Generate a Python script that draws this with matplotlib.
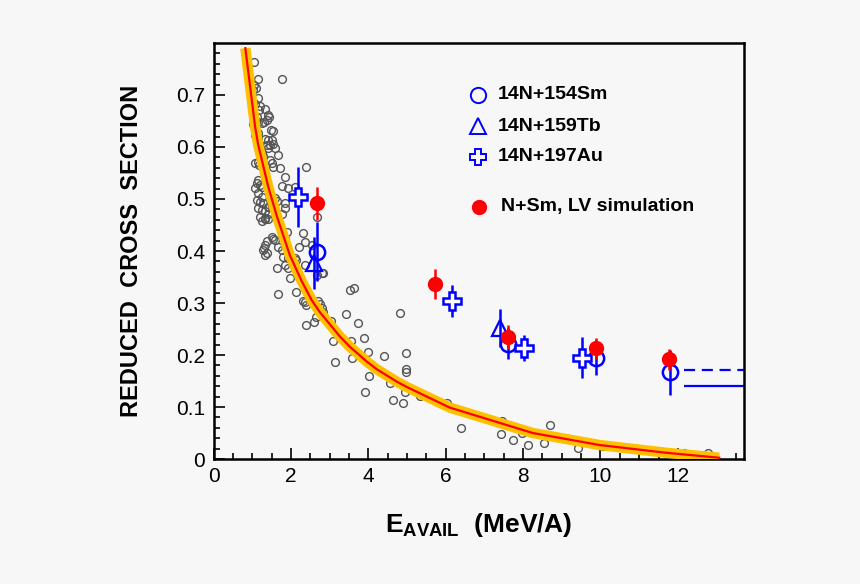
import numpy as np
import matplotlib.pyplot as plt

plt.rcParams['font.family'] = ['Liberation Sans', 'DejaVu Sans']
plt.rcParams['mathtext.fontset'] = 'custom'
plt.rcParams['mathtext.bf'] = 'Liberation Sans:bold'
plt.rcParams['mathtext.rm'] = 'Liberation Sans:bold'

# systematics (grey open circles)
sys_x = [1.04, 1.14, 1.76, 1.05, 1.09, 1.02, 1.14, 1.02, 1.07, 1.20, 1.17, 1.33,
         1.41, 1.44, 1.37, 1.11, 1.15, 1.02, 1.07, 1.24, 1.31, 1.48, 1.54, 1.07, 1.14,
         1.07, 1.14, 1.33, 1.41, 1.51, 1.37, 1.46, 1.54, 1.41, 1.58, 1.20, 1.24, 1.28,
         1.67, 1.46, 1.50, 1.07, 1.14, 1.17, 1.54, 1.71, 1.84, 2.38, 1.15, 1.11, 1.20,
         1.24, 1.07, 1.76, 1.93, 2.10, 1.15, 1.24, 1.11, 1.20, 1.28, 1.58, 1.65, 1.50,
         1.41, 1.84, 1.15, 1.24, 1.33, 1.41, 1.20, 1.33, 1.76, 1.84, 2.66,
         1.24, 1.33, 1.41, 1.89, 2.31, 1.50, 1.54, 1.58, 1.37, 1.33, 1.31, 1.28, 1.67,
         1.84, 1.37, 1.33, 1.76, 1.80, 2.36, 2.53, 1.93, 1.97, 2.10, 2.14, 1.84, 1.93,
         1.63, 2.36, 1.97, 2.14, 1.67, 2.49, 2.31, 2.70, 2.66, 2.79,
         2.21, 2.83, 3.52, 3.63, 2.36, 2.75, 2.40, 2.79, 2.83, 2.64, 2.40, 2.59, 3.03,
         3.43, 3.73, 4.81, 3.09, 3.54, 3.89, 3.13, 3.58, 3.99, 4.41, 4.98, 4.02, 4.55,
         4.98, 4.98, 3.91, 4.64, 4.90, 4.94, 5.34, 6.04, 6.40, 7.46, 7.43, 7.73, 7.97,
         8.12, 8.53, 8.70, 9.41, 10.07, 12.17, 12.79]
sys_y = [0.763, 0.730, 0.731, 0.720, 0.714, 0.710, 0.694, 0.687, 0.682, 0.678, 0.671, 0.674,
         0.662, 0.658, 0.652, 0.658, 0.649, 0.644, 0.639, 0.646, 0.648, 0.633, 0.631, 0.628, 0.626,
         0.623, 0.620, 0.615, 0.613, 0.613, 0.604, 0.604, 0.606, 0.598, 0.598, 0.594, 0.588, 0.583,
         0.585, 0.575, 0.569, 0.569, 0.572, 0.565, 0.561, 0.559, 0.543, 0.562, 0.537, 0.530, 0.527,
         0.524, 0.521, 0.525, 0.521, 0.524, 0.511, 0.504, 0.498, 0.495, 0.492, 0.501, 0.497, 0.488,
         0.485, 0.492, 0.482, 0.479, 0.476, 0.472, 0.465, 0.463, 0.472, 0.482, 0.465,
         0.458, 0.462, 0.461, 0.437, 0.434, 0.427, 0.424, 0.421, 0.419, 0.412, 0.405, 0.402, 0.408,
         0.424, 0.396, 0.392, 0.402, 0.389, 0.418, 0.412, 0.386, 0.389, 0.386, 0.383, 0.373, 0.367,
         0.368, 0.373, 0.348, 0.322, 0.317, 0.312, 0.304, 0.303, 0.354, 0.357,
         0.408, 0.357, 0.325, 0.328, 0.302, 0.299, 0.296, 0.290, 0.283, 0.274, 0.258, 0.264, 0.266,
         0.279, 0.261, 0.281, 0.226, 0.226, 0.233, 0.186, 0.194, 0.206, 0.198, 0.204, 0.160, 0.146,
         0.173, 0.168, 0.128, 0.113, 0.108, 0.128, 0.122, 0.108, 0.059, 0.074, 0.049, 0.037, 0.051,
         0.027, 0.030, 0.065, 0.022, 0.025, 0.012, 0.011]

# fitted curve
fit_x = [0.82, 1.07, 1.15, 1.41, 1.63, 1.97, 2.27, 2.53, 2.75, 3.26, 3.52, 3.95,
         4.21, 4.73, 4.98, 6.10, 8.25, 9.97, 11.70, 13.07]
fit_y = [0.790, 0.640, 0.605, 0.524, 0.468, 0.392, 0.343, 0.306, 0.282, 0.236, 0.216, 0.188,
         0.173, 0.149, 0.139, 0.099, 0.050, 0.027, 0.012, 0.0025]

sm_x = [2.66, 7.60, 9.89, 11.80]
sm_y = [0.399, 0.222, 0.195, 0.167]
sm_err = [0.056, 0.030, 0.033, 0.043]

tb_x = [2.60, 7.40]
tb_y = [0.376, 0.252]
tb_err = [0.050, 0.037]

au_x = [2.17, 6.16, 8.02, 9.52]
au_y = [0.504, 0.304, 0.213, 0.195]
au_err = [0.058, 0.031, 0.025, 0.039]

sim_x = [2.66, 5.71, 7.60, 9.89, 11.78]
sim_y = [0.492, 0.336, 0.234, 0.213, 0.192]
sim_err = [0.032, 0.029, 0.023, 0.020, 0.020]

lim_start = 12.15
lim_dashed = 0.171
lim_solid = 0.141

bg = '#f7f7f7'
blue = '#0000ff'
fig = plt.figure(figsize=(8.6, 5.84), dpi=100, facecolor=bg)
ax = fig.add_axes([0.2484, 0.214, 0.6163, 0.7124], facecolor=bg)

ax.plot(sys_x, sys_y, 'o', ms=5.6, mfc='none', mec='#555555', mew=1.0, zorder=2)
ax.plot(fit_x, fit_y, color='#ffc000', lw=7.5, solid_capstyle='butt',
        solid_joinstyle='round', zorder=3)
ax.plot(fit_x, fit_y, color='red', lw=1.6, solid_joinstyle='round', zorder=4)

ax.errorbar(tb_x, tb_y, yerr=tb_err, fmt='^', ms=12, mfc='none', mec=blue, mew=1.6,
            ecolor=blue, elinewidth=1.8, capsize=0, zorder=5)
ax.errorbar(sm_x, sm_y, yerr=sm_err, fmt='o', ms=11, mfc='none', mec=blue, mew=1.8,
            ecolor=blue, elinewidth=1.8, capsize=0, zorder=5)
ax.errorbar(au_x, au_y, yerr=au_err, fmt='P', ms=13, mfc='white', mec=blue, mew=1.8,
            ecolor=blue, elinewidth=1.8, capsize=0, zorder=5)
ax.errorbar(sim_x, sim_y, yerr=sim_err, fmt='o', ms=10, color='red',
            elinewidth=1.8, capsize=0, zorder=6)

ax.hlines(lim_dashed, lim_start, 13.7, colors=blue, linestyles=(0, (5, 3)), lw=1.6)
ax.hlines(lim_solid, lim_start, 13.7, colors=blue, lw=1.6)

ax.set_xlim(0, 13.7)
ax.set_ylim(0, 0.8)
ax.set_xticks(np.arange(0, 13, 2))
ax.set_xticks(np.arange(0, 13.7, 0.5), minor=True)
ax.set_yticks(np.arange(0, 0.71, 0.1))
ax.set_yticks(np.arange(0, 0.8, 0.02), minor=True)
ax.set_yticklabels(['0', '0.1', '0.2', '0.3', '0.4', '0.5', '0.6', '0.7'])
ax.tick_params(which='both', direction='in', labelsize=15, width=1.2)
ax.tick_params(which='major', length=8, pad=6)
ax.tick_params(which='minor', length=4)
for s in ax.spines.values():
    s.set_linewidth(1.8)

ax.set_ylabel('REDUCED  CROSS  SECTION', fontsize=17, fontweight='bold', labelpad=24)
ax.set_xlabel(r'$\mathbf{E_{AVAIL}}$  (MeV/A)', fontsize=19, fontweight='bold', labelpad=18)

# legend
tr = ax.transAxes
ax.plot(0.499, 0.875, 'o', ms=11, mfc='none', mec=blue, mew=1.4, transform=tr)
ax.plot(0.499, 0.800, '^', ms=12, mfc='none', mec=blue, mew=1.4, transform=tr)
ax.plot(0.499, 0.726, 'P', ms=12, mfc='none', mec=blue, mew=1.4, transform=tr)
ax.plot(0.501, 0.606, 'o', ms=10, color='red', transform=tr)
for yy, lab, xx in [(0.875, '14N+154Sm', 0.537), (0.800, '14N+159Tb', 0.537),
                    (0.726, '14N+197Au', 0.537), (0.606, 'N+Sm, LV simulation', 0.543)]:
    ax.text(xx, yy, lab, transform=tr, fontsize=14, fontweight='bold', va='center')

fig.savefig('out.png', dpi=100, facecolor=bg)
